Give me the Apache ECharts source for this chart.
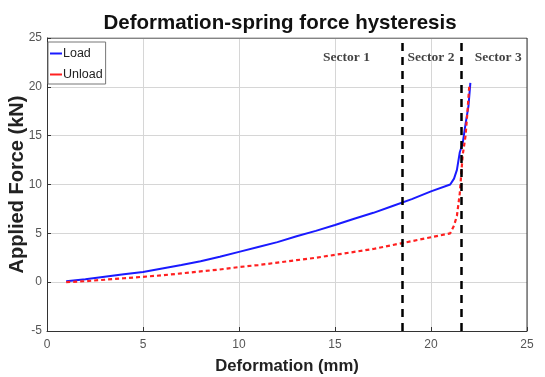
<!DOCTYPE html>
<html>
<head>
<meta charset="utf-8">
<script src="https://cdn.jsdelivr.net/npm/echarts@6/dist/echarts.min.js"></script>
<style>
html,body{margin:0;padding:0;background:#fff;}
#chart{width:545px;height:377px;}
</style>
</head>
<body>
<div id="chart"></div>
<script>
// load curve (deformation mm, force kN)
var loadX = [1, 2, 3, 4, 5, 6, 7, 8, 9, 10, 11, 12, 13, 14, 15, 16, 17, 18, 19, 20, 21, 21.2, 21.35, 21.5, 21.65, 21.8, 21.95, 22.05];
var loadY = [0.1, 0.3, 0.55, 0.8, 1.05, 1.4, 1.75, 2.15, 2.6, 3.1, 3.6, 4.1, 4.7, 5.25, 5.85, 6.5, 7.1, 7.8, 8.5, 9.3, 10.0, 10.6, 11.5, 13.3, 14.2, 16.2, 18.0, 20.4];
// unload curve
var unloadX = [1, 2, 3, 4, 5, 6, 7, 8, 9, 10, 11, 12, 13, 14, 15, 16, 17, 18, 19, 20, 21, 21.2, 21.35, 21.5, 21.65, 21.8, 21.9, 22.0];
var unloadY = [0, 0.1, 0.25, 0.4, 0.55, 0.7, 0.9, 1.1, 1.3, 1.55, 1.75, 2.0, 2.25, 2.5, 2.8, 3.1, 3.4, 3.8, 4.2, 4.6, 5.0, 5.8, 6.8, 9.1, 13.0, 15.0, 17.5, 20.3];
// sector boundaries
var sectorLines = [18.5, 21.6];
var sectorNames = ['Sector 1', 'Sector 2', 'Sector 3'];
var sectorLabelX = [15.6, 20.0, 23.5];

function pairs(xs, ys) {
	var out = [];
	for (var i = 0; i < xs.length; i++) out.push([xs[i], ys[i]]);
	return out;
}

var chart = echarts.init(document.getElementById('chart'));
var font = 'Liberation Sans, Arial, sans-serif';

option = {
	animation: false,
	title: {
		text: 'Deformation-spring force hysteresis',
		left: 275,
		textAlign: 'center',
		top: 8,
		textStyle: {fontFamily: font, fontSize: 20.5, fontWeight: 'bold', color: '#111'}
	},
	legend: {
		left: 48,
		top: 42,
		orient: 'vertical',
		itemWidth: 12,
		itemHeight: 2,
		itemGap: 8,
		padding: [5, 3, 3, 2],
		borderColor: '#777',
		borderWidth: 1,
		backgroundColor: '#fff',
		textStyle: {fontFamily: font, fontSize: 12.5, color: '#222', padding: [0, 0, 0, -4]},
		data: [
			{name: 'Load', icon: 'rect'},
			{name: 'Unload', icon: 'rect'}
		]
	},
	grid: {left: 47, right: 18, top: 38, bottom: 46, outerBoundsMode: 'none'},
	xAxis: {
		type: 'value',
		min: 0, max: 25, interval: 5,
		name: 'Deformation (mm)',
		nameLocation: 'middle',
		nameGap: 27,
		nameMoveOverlap: false,
		nameTextStyle: {fontFamily: font, fontSize: 16.7, fontWeight: 'bold', color: '#222'},
		axisLine: {show: true, onZero: false, lineStyle: {color: '#333'}},
		axisTick: {show: true, inside: true, length: 4, lineStyle: {color: '#333'}},
		axisLabel: {fontFamily: font, fontSize: 12, color: '#555', margin: 8},
		splitLine: {show: true, lineStyle: {color: '#d6d6d6'}}
	},
	yAxis: {
		type: 'value',
		min: -5, max: 25, interval: 5,
		name: 'Applied Force (kN)',
		nameLocation: 'middle',
		nameGap: 20,
		nameMoveOverlap: false,
		nameTextStyle: {fontFamily: font, fontSize: 20, fontWeight: 'bold', color: '#222'},
		axisLine: {show: true, onZero: false, lineStyle: {color: '#333'}},
		axisTick: {show: true, inside: true, length: 4, lineStyle: {color: '#333'}},
		axisLabel: {fontFamily: font, fontSize: 12, color: '#555', margin: 5},
		splitLine: {show: true, lineStyle: {color: '#d6d6d6'}}
	},
	series: [
		{
			name: 'Load',
			type: 'line',
			symbol: 'none',
			color: '#1a1aff',
			lineStyle: {width: 2, color: '#1a1aff'},
			data: pairs(loadX, loadY),
			z: 3
		},
		{
			name: 'Unload',
			type: 'line',
			symbol: 'none',
			color: '#ff2020',
			lineStyle: {width: 2.2, color: '#ff2020', type: [4, 3]},
			data: pairs(unloadX, unloadY),
			z: 3,
			markLine: {
				silent: true,
				symbol: 'none',
				label: {show: false},
				lineStyle: {color: '#000', width: 2.5, type: [8, 6]},
				data: sectorLines.map(function (v) { return {xAxis: v}; })
			}
		},
		{
			type: 'scatter',
			symbolSize: 0,
			silent: true,
			data: sectorLabelX.map(function (v) { return [v, 23]; }),
			label: {
				show: true,
				position: 'inside',
				formatter: function (p) { return sectorNames[p.dataIndex]; },
				fontFamily: 'Liberation Serif, Times New Roman, serif',
				fontSize: 13.5,
				fontWeight: 'bold',
				color: '#111'
			}
		},
		{
			// right and top frame
			type: 'line',
			symbol: 'none',
			silent: true,
			color: '#333',
			lineStyle: {color: '#333', width: 1},
			data: [[0, 25], [25, 25], [25, -5]]
		}
	]
};

chart.setOption(option);
</script>
</body>
</html>
